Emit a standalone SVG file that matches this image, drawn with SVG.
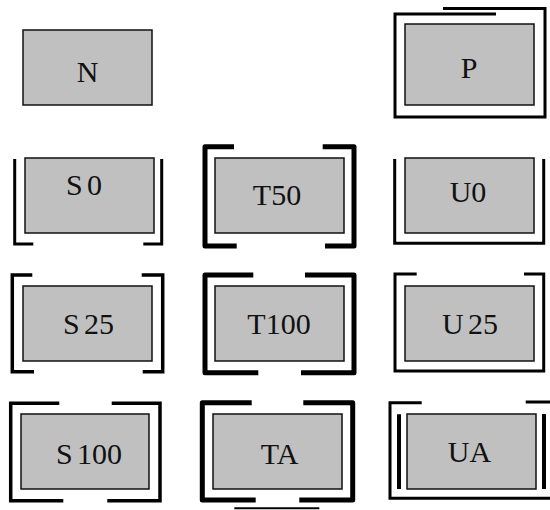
<svg xmlns="http://www.w3.org/2000/svg" width="550" height="510" viewBox="0 0 550 510">
<style>
.box{fill:#c0c0c0;stroke:#111;stroke-width:1.5}
.lbl{font-family:"Liberation Serif","Times New Roman",serif;font-size:30px;fill:#111;text-anchor:middle;word-spacing:-3px}
.f3{fill:none;stroke:#000;stroke-width:3;stroke-linejoin:miter}
.f35{fill:none;stroke:#000;stroke-width:3.5;stroke-linejoin:miter}
.f5{fill:none;stroke:#000;stroke-width:5;stroke-linejoin:round}
</style>
<rect width="550" height="510" fill="#fff"/>
<g id="N">
<rect class="box" x="23" y="30" width="129" height="75"/>
<text class="lbl" x="87.5" y="82">N</text>
</g>
<g id="P">
<path class="f3" d="M496,14 H395 V117 H545 V8.5 H443"/>
<rect class="box" x="405" y="24" width="129" height="81"/>
<text class="lbl" x="469" y="78">P</text>
</g>
<g id="S0">
<path class="f3" d="M14.7,159 V244 H33.3 M143.3,244 H161.7 V159"/>
<rect class="box" x="25" y="158" width="129" height="75"/>
<text class="lbl" x="84" y="195">S 0</text>
</g>
<g id="T50">
<path class="f5" d="M234,146.7 H205 V246 H236.7 M322.7,146.7 H354 V246 H325"/>
<rect class="box" x="215" y="158" width="129" height="75"/>
<text class="lbl" x="277" y="205">T50</text>
</g>
<g id="U0">
<path class="f3" d="M394.7,159 V243.3 H543.7 V159"/>
<rect class="box" x="405" y="158" width="129" height="75"/>
<text class="lbl" x="468" y="202">U0</text>
</g>
<g id="S25">
<path class="f35" d="M32.3,275 H12.3 V371.7 H34 M141.7,275 H162.7 V371.7 H142.7"/>
<rect class="box" x="23" y="286" width="129" height="75"/>
<text class="lbl" x="88.5" y="334">S 25</text>
</g>
<g id="T100">
<path class="f5" d="M253.3,275 H205 V372.7 H258.3 M305,275 H354 V372.7 H301"/>
<rect class="box" x="215" y="286" width="129" height="75"/>
<text class="lbl" x="279" y="334">T100</text>
</g>
<g id="U25">
<path class="f3" d="M416.7,274 H395 V371 H543.7 V274 H524"/>
<rect class="box" x="405" y="286" width="129" height="75"/>
<text class="lbl" x="470" y="334">U 25</text>
</g>
<g id="S100">
<path class="f35" d="M59.3,403.3 H10.7 V500.7 H63.3 M111.7,403.3 H160 V500.7 H107.3"/>
<rect class="box" x="21" y="414" width="128" height="75"/>
<text class="lbl" x="89" y="464">S 100</text>
</g>
<g id="TA">
<path class="f5" d="M251.7,402.7 H202.3 V500 H255.7 M303.3,402.7 H352.7 V500 H299.3"/>
<path fill="none" stroke="#000" stroke-width="2" d="M234.3,508.3 H319.3"/>
<rect class="box" x="213" y="414" width="129" height="75"/>
<text class="lbl" x="279.5" y="464">TA</text>
</g>
<g id="UA">
<path class="f3" d="M421.7,402.7 H390 V498.3 H550 M525.7,402 H550"/>
<path fill="none" stroke="#000" stroke-width="4" d="M399,414.3 V489 M544,414 V489"/>
<rect class="box" x="407" y="414" width="129" height="75"/>
<text class="lbl" x="469.5" y="462">UA</text>
</g>
</svg>
